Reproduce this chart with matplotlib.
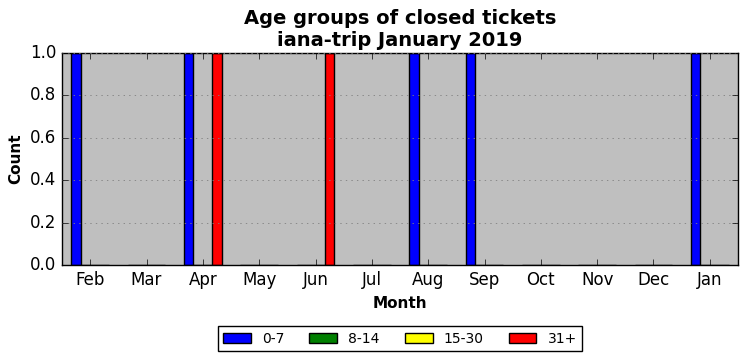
import matplotlib
matplotlib.use("Agg")
import matplotlib.pyplot as plt
import numpy as np

plt.style.use("classic")

months = ["Feb", "Mar", "Apr", "May", "Jun", "Jul", "Aug", "Sep", "Oct", "Nov", "Dec", "Jan"]
series_names = ["0-7", "8-14", "15-30", "31+"]
v_0_7 = [1, 0, 1, 0, 0, 0, 1, 1, 0, 0, 0, 1]
v_8_14 = [0, 0, 0, 0, 0, 0, 0, 0, 0, 0, 0, 0]
v_15_30 = [0, 0, 0, 0, 0, 0, 0, 0, 0, 0, 0, 0]
v_31p = [0, 0, 1, 0, 1, 0, 0, 0, 0, 0, 0, 0]
colors = ["blue", "green", "yellow", "red"]

fig = plt.figure(figsize=(7.47, 3.61), dpi=100, facecolor="white")
ax = fig.add_axes([62/747, 1-265/361, (738-62)/747, (265-53)/361])
ax.set_facecolor("#bfbfbf")

x = np.arange(len(months))
w = 1/6
data = [v_0_7, v_8_14, v_15_30, v_31p]
for i, (vals, c, name) in enumerate(zip(data, colors, series_names)):
    ax.bar(x + (i - 1.5) * w, vals, width=w, color=c, edgecolor="black",
           linewidth=1, label=name, align="center")

ax.set_xlim(-0.5, len(months) - 0.5)
ax.set_ylim(0, 1.0)
ax.set_xticks(x)
ax.set_xticklabels(months)
ax.set_yticks(np.arange(0, 1.01, 0.2))
ax.yaxis.grid(True, linestyle=":", color="0.5", linewidth=0.6)
ax.xaxis.grid(False)
ax.tick_params(labelsize=12)
ax.set_xlabel("Month", fontsize=11, fontweight="bold")
ax.set_ylabel("Count", fontsize=11, fontweight="bold")
ax.set_title("Age groups of closed tickets\niana-trip January 2019", fontsize=14,
             fontweight="bold", linespacing=1.18, pad=5)

leg = ax.legend(loc="upper center", bbox_to_anchor=(0.5, -0.255), ncol=4,
                fontsize=10, frameon=True, fancybox=False, handlelength=2.0,
                columnspacing=1.8)
leg.get_frame().set_edgecolor("black")

fig.savefig("out.png", dpi=100)
